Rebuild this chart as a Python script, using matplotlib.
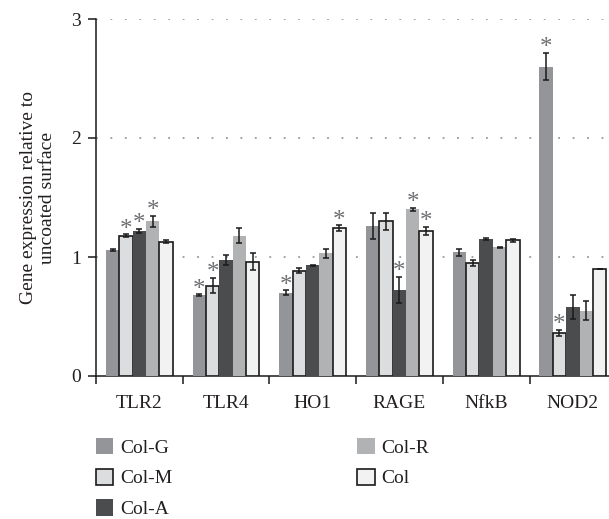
import matplotlib
matplotlib.use("Agg")
import matplotlib.pyplot as plt
import numpy as np
from matplotlib.patches import Patch

genes = ["TLR2", "TLR4", "HO1", "RAGE", "NfkB", "NOD2"]
series = ["Col-G", "Col-M", "Col-A", "Col-R", "Col"]

col_g = [1.06, 0.68, 0.70, 1.26, 1.04, 2.60]
col_g_err = [0.01, 0.005, 0.02, 0.11, 0.03, 0.115]
col_m = [1.18, 0.76, 0.885, 1.30, 0.95, 0.365]
col_m_err = [0.01, 0.065, 0.02, 0.07, 0.025, 0.025]
col_a = [1.22, 0.975, 0.93, 0.72, 1.155, 0.58]
col_a_err = [0.015, 0.04, 0.005, 0.11, 0.008, 0.10]
col_r = [1.30, 1.18, 1.03, 1.40, 1.08, 0.55]
col_r_err = [0.045, 0.06, 0.035, 0.01, 0.004, 0.08]
col = [1.13, 0.96, 1.24, 1.22, 1.14, 0.90]
col_err = [0.01, 0.07, 0.025, 0.035, 0.01, 0.003]

# significance markers (True = asterisk)
sig_g = [False, True, True, False, False, True]
sig_m = [True, True, False, False, False, True]
sig_a = [True, False, False, True, False, False]
sig_r = [True, False, False, True, False, False]
sig_c = [False, False, True, True, False, False]

values = [col_g, col_m, col_a, col_r, col]
errors = [col_g_err, col_m_err, col_a_err, col_r_err, col_err]
sigs = [sig_g, sig_m, sig_a, sig_r, sig_c]
faces = ["#939598", "#dcdddf", "#4b4c4e", "#b1b2b4", "#f2f2f3"]
edges = [None, "#1a1a1a", None, None, "#1a1a1a"]

plt.rcParams["font.family"] = ["Liberation Serif", "DejaVu Serif"]
txt = "#231f20"

fig = plt.figure(figsize=(6.09, 5.19), dpi=100)
ax = fig.add_axes([96 / 609, 1 - 376 / 519, 1 - 96 / 609, (376 - 19) / 519])

w = 0.154
x = np.arange(len(genes)) + 0.5
for j in range(5):
    pos = x + (j - 2) * w
    ec = edges[j] if edges[j] else faces[j]
    lw = 1.2 if edges[j] else 0
    ax.bar(pos, values[j], width=w, color=faces[j], edgecolor=ec, linewidth=lw,
           zorder=3, label=series[j])
    ax.errorbar(pos, values[j], yerr=errors[j], fmt="none", ecolor="#1a1a1a",
                elinewidth=1.1, capsize=2.5, capthick=1.1, zorder=4)
    for i in range(len(genes)):
        if sigs[j][i]:
            ax.annotate("*", (pos[i], values[j][i] + errors[j][i]),
                        xytext=(0, -4.5), textcoords="offset points",
                        ha="center", va="bottom", fontsize=18, color="#6d6e71",
                        zorder=5)

ax.set_xlim(0, (609 - 96) / 86.7)
ax.set_ylim(0, 3)
for yv in [1, 2, 3]:
    ax.axhline(yv, color="#9a9a9a", linestyle=(0, (1, 7)), linewidth=1.3, zorder=1)

ax.spines["top"].set_visible(False)
ax.spines["right"].set_visible(False)
for s in ["left", "bottom"]:
    ax.spines[s].set_linewidth(1.1)
    ax.spines[s].set_color("#1a1a1a")

ax.set_yticks([0, 1, 2, 3])
ax.tick_params(axis="y", direction="out", length=6, width=1.1, color="#1a1a1a",
               labelsize=14, labelcolor=txt, pad=5)
ax.set_xticks(np.arange(0, 6))
ax.set_xticklabels([])
ax.tick_params(axis="x", which="major", direction="out", length=6, width=1.1,
               color="#1a1a1a")
ax.set_xticks(x, minor=True)
ax.set_xticklabels(genes, minor=True)
ax.tick_params(axis="x", which="minor", length=0, labelsize=14, labelcolor=txt,
               pad=14)

ax.set_ylabel("Gene expression relative to\nuncoated surface", fontsize=14,
              color=txt, labelpad=11, linespacing=1.15)

handles = [Patch(facecolor=faces[j], edgecolor=(edges[j] if edges[j] else faces[j]),
                 linewidth=(1.2 if edges[j] else 0)) for j in range(5)]
leg = fig.legend(handles, series, loc="upper left", bbox_to_anchor=(88 / 609, 1 - 430 / 519),
                 ncol=2, frameon=False, fontsize=14, handlelength=0.9, handleheight=0.9,
                 handletextpad=0.35, labelspacing=0.62, columnspacing=9.5, borderaxespad=0)
for t in leg.get_texts():
    t.set_color(txt)

fig.savefig("out.png", dpi=100)
